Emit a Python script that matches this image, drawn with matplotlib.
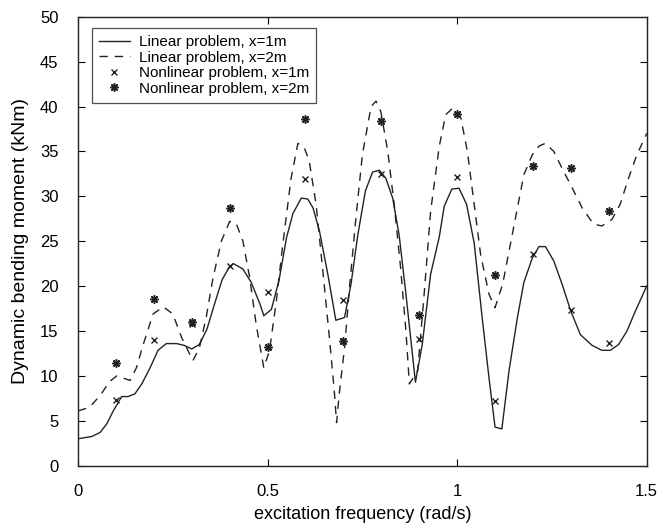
import matplotlib
matplotlib.use('Agg')
from matplotlib import pyplot as plt

plt.rcParams['font.family'] = ['Liberation Sans', 'DejaVu Sans']

# linear problem, x=1m (solid)
freq_lin1 = [0, 0.036, 0.058, 0.075, 0.093, 0.115, 0.132, 0.15, 0.168, 0.19,
             0.211, 0.233, 0.26, 0.28, 0.30, 0.32, 0.34, 0.36, 0.38, 0.40,
             0.41, 0.435, 0.457, 0.48, 0.49, 0.51, 0.53, 0.55, 0.567, 0.589,
             0.606, 0.62, 0.637, 0.659, 0.68, 0.703, 0.72, 0.738, 0.758, 0.777,
             0.795, 0.812, 0.83, 0.847, 0.865, 0.89, 0.908, 0.93, 0.953, 0.966,
             0.986, 1.005, 1.025, 1.045, 1.066, 1.084, 1.1, 1.118, 1.137, 1.159,
             1.176, 1.198, 1.216, 1.233, 1.255, 1.277, 1.3, 1.325, 1.356, 1.382,
             1.404, 1.426, 1.448, 1.47, 1.5]
moment_lin1 = [3.0, 3.25, 3.7, 4.6, 6.1, 7.7, 7.7, 8.0, 9.1, 10.9,
               12.85, 13.6, 13.6, 13.4, 13.0, 13.5, 15.2, 18.0, 20.7, 22.2,
               22.5, 21.9, 20.4, 18.0, 16.7, 17.4, 20.6, 25.4, 28.1, 29.8,
               29.7, 28.7, 26.1, 21.3, 16.2, 16.5, 20.2, 25.7, 30.6, 32.7,
               32.9, 32.0, 29.8, 25.7, 19.1, 9.3, 13.5, 21.3, 25.5, 28.9,
               30.8, 30.9, 29.1, 24.8, 16.5, 9.8, 4.3, 4.1, 10.6, 16.5,
               20.4, 23.1, 24.4, 24.4, 22.8, 20.2, 17.2, 14.6, 13.4, 12.85,
               12.85, 13.5, 15.0, 17.2, 20.0]

# linear problem, x=2m (dashed)
freq_lin2 = [0, 0.03, 0.058, 0.084, 0.102, 0.137, 0.154, 0.172, 0.198, 0.225,
             0.25, 0.273, 0.303, 0.32, 0.338, 0.356, 0.378, 0.40, 0.417, 0.435,
             0.453, 0.47, 0.49, 0.505, 0.523, 0.54, 0.562, 0.58, 0.597, 0.61,
             0.628, 0.645, 0.663, 0.676, 0.682, 0.689, 0.703, 0.716, 0.733, 0.75,
             0.773, 0.786, 0.799, 0.817, 0.834, 0.851, 0.865, 0.874, 0.896, 0.913,
             0.93, 0.953, 0.97, 0.988, 1.01, 1.027, 1.045, 1.062, 1.084, 1.1,
             1.12, 1.137, 1.159, 1.176, 1.198, 1.216, 1.233, 1.255, 1.277, 1.304,
             1.33, 1.36, 1.382, 1.408, 1.43, 1.452, 1.474, 1.5]
moment_lin2 = [6.1, 6.5, 7.8, 9.4, 10.0, 9.5, 10.9, 13.5, 16.9, 17.7,
               16.9, 14.3, 11.7, 13.1, 16.5, 20.9, 25.0, 27.2, 27.0, 25.0,
               20.9, 15.7, 10.9, 12.8, 18.3, 24.6, 32.0, 35.9, 35.4, 33.9,
               29.1, 22.0, 14.3, 8.3, 4.8, 8.0, 13.1, 19.8, 27.6, 34.6,
               40.0, 40.6, 39.4, 35.0, 29.1, 22.0, 15.0, 9.1, 10.6, 19.1,
               28.3, 35.6, 39.1, 39.8, 38.7, 35.0, 29.1, 23.5, 19.1, 17.6,
               20.2, 23.9, 28.7, 32.4, 34.6, 35.6, 35.9, 35.0, 33.1, 30.9,
               28.7, 26.9, 26.7, 27.4, 29.1, 32.0, 34.6, 37.0]

# nonlinear problem, sampled points
freq_nl = [0.1, 0.2, 0.3, 0.4, 0.5, 0.6, 0.7, 0.8, 0.9, 1.0, 1.1, 1.2, 1.3, 1.4]
moment_nl1 = [7.3, 14.0, 15.8, 22.2, 19.3, 31.9, 18.4, 32.5, 14.15, 32.2,
              7.2, 23.6, 17.3, 13.7]
moment_nl2 = [11.4, 18.6, 16.0, 28.7, 13.2, 38.6, 13.9, 38.4, 16.8, 39.2,
              21.2, 33.4, 33.1, 28.4]

fig = plt.figure(figsize=(6.59, 5.32), dpi=100)
ax = fig.add_axes([0.1184, 0.1246, 0.8629, 0.844])

ax.plot(freq_lin1, moment_lin1, '-', color='#222222', linewidth=1.0,
        label='Linear problem, x=1m')
ax.plot(freq_lin2, moment_lin2, '--', color='#222222', linewidth=1.0,
        dashes=(6, 5), label='Linear problem, x=2m')
ax.plot(freq_nl, moment_nl1, 'x', color='#222222', markersize=5,
        markeredgewidth=1.0, label='Nonlinear problem, x=1m')
ax.plot(freq_nl, moment_nl2, linestyle='none', marker=(8, 2, 0),
        color='#222222', markersize=6, markeredgewidth=1.1,
        label='Nonlinear problem, x=2m')

ax.set_xlim(0, 1.5)
ax.set_ylim(0, 50)
ax.set_xticks([0, 0.5, 1, 1.5])
ax.set_xticklabels(['0', '0.5', '1', '1.5'])
ax.set_yticks(range(0, 51, 5))
ax.tick_params(direction='in', top=True, right=True, labelsize=12,
               length=5, width=0.8)
ax.tick_params(axis='y', pad=14)
ax.tick_params(axis='x', pad=13)
for spine in ax.spines.values():
    spine.set_linewidth(1.0)
    spine.set_color('#222222')

ax.set_xlabel('excitation frequency (rad/s)', fontsize=13, labelpad=5)
ax.set_ylabel('Dynamic bending moment (kNm)', fontsize=14, labelpad=8)

leg = ax.legend(loc='upper left', bbox_to_anchor=(0.025, 0.974), fontsize=11,
                frameon=True, fancybox=False, handlelength=2.0,
                borderpad=0.45, labelspacing=0.1, handletextpad=0.6,
                borderaxespad=0)
leg.get_frame().set_edgecolor('#222222')
leg.get_frame().set_linewidth(0.9)

fig.savefig('out.png', dpi=100)
